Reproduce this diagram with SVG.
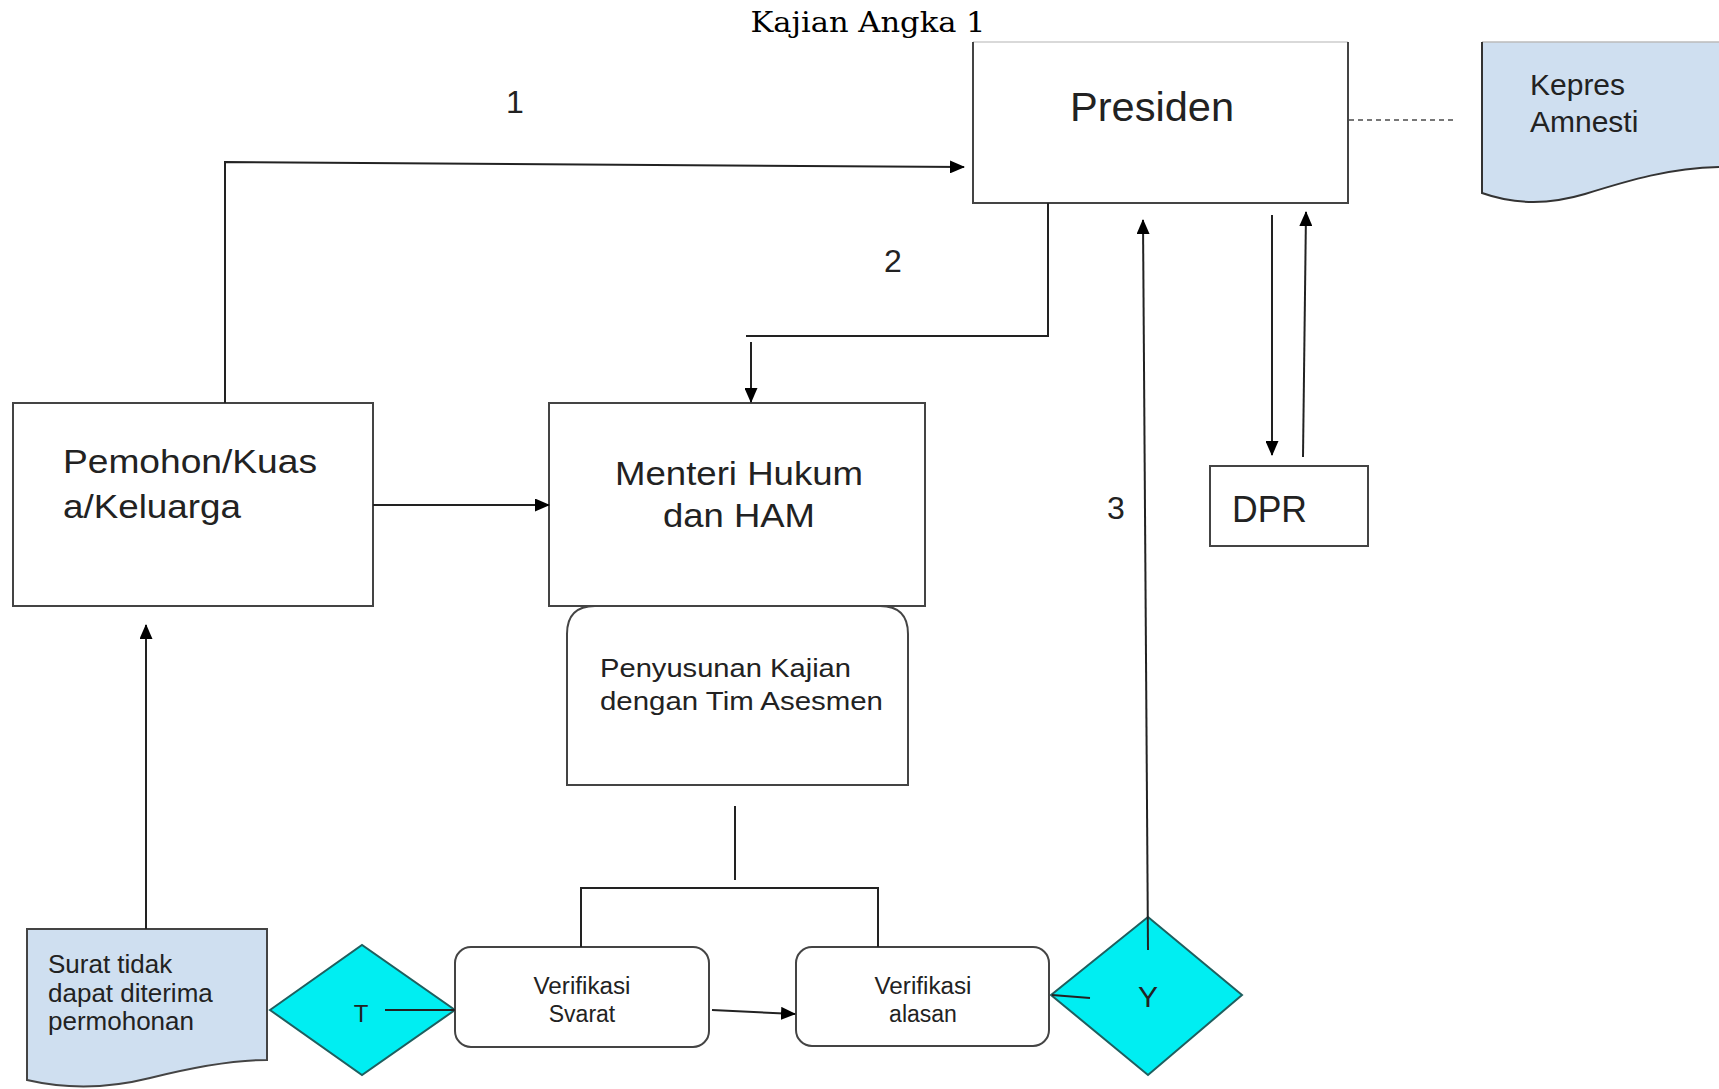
<svg xmlns="http://www.w3.org/2000/svg" width="1719" height="1089" viewBox="0 0 1719 1089">
<defs>
<marker id="ah" markerWidth="15" markerHeight="13" refX="14" refY="6.5" orient="auto" markerUnits="userSpaceOnUse" viewBox="0 0 15 13">
<path d="M0,0 L15,6.5 L0,13 Z" fill="#000"/>
</marker>
<style>
.box{fill:#fff;stroke:#444;stroke-width:2}
.doc{fill:#cfdff0}
.dia{fill:#00eef2;stroke:#1f5f5f;stroke-width:2}
.ln{fill:none;stroke:#222;stroke-width:2}
.arr{fill:none;stroke:#222;stroke-width:2;marker-end:url(#ah)}
.t{font-family:"Liberation Sans",Arial,sans-serif;fill:#222}
</style>
</defs>
<rect width="1719" height="1089" fill="#fff"/>
<text x="868" y="32" text-anchor="middle" font-family="DejaVu Serif, serif" font-size="27" textLength="235" lengthAdjust="spacingAndGlyphs" fill="#000">Kajian Angka 1</text>

<g id="label-1"><text class="t" x="515" y="113" font-size="32" text-anchor="middle">1</text></g>
<g id="label-2"><text class="t" x="893" y="272" font-size="32" text-anchor="middle">2</text></g>
<g id="label-3"><text class="t" x="1116" y="519" font-size="32" text-anchor="middle">3</text></g>

<g id="presiden">
<rect x="973" y="42" width="375" height="161" fill="#fff"/>
<path d="M973,42 H1348" stroke="#ccc" stroke-width="1.5" fill="none"/>
<path d="M973,42 V203 H1348 V42" stroke="#444" stroke-width="2" fill="none"/>
<text class="t" x="1152" y="121" font-size="40" text-anchor="middle" textLength="164" lengthAdjust="spacingAndGlyphs">Presiden</text>
</g>

<g id="kepres">
<path class="doc" d="M1482,42 H1719 V167 C1670,168 1630,180 1585,194 C1545,206 1510,203 1482,193 Z"/>
<path d="M1482,42 H1719" stroke="#bbb" stroke-width="1.5" fill="none"/>
<path d="M1482,42 V193 C1510,203 1545,206 1585,194 C1630,180 1670,168 1719,167" stroke="#333" stroke-width="2" fill="none"/>
<text class="t" x="1530" y="95" font-size="30" fill="#1a1a2a">Kepres</text>
<text class="t" x="1530" y="132" font-size="30" fill="#1a1a2a">Amnesti</text>
</g>

<g id="pemohon">
<rect class="box" x="13" y="403" width="360" height="203"/>
<text class="t" x="63" y="473" font-size="34" textLength="254" lengthAdjust="spacingAndGlyphs">Pemohon/Kuas</text>
<text class="t" x="63" y="518" font-size="34" textLength="178" lengthAdjust="spacingAndGlyphs">a/Keluarga</text>
</g>

<g id="menteri">
<rect class="box" x="549" y="403" width="376" height="203"/>
<text class="t" x="739" y="485" font-size="34" text-anchor="middle" textLength="248" lengthAdjust="spacingAndGlyphs">Menteri Hukum</text>
<text class="t" x="739" y="527" font-size="34" text-anchor="middle" textLength="152" lengthAdjust="spacingAndGlyphs">dan HAM</text>
</g>

<g id="penyusunan">
<path class="box" d="M567,785 V634 Q567,606 595,606 H880 Q908,606 908,634 V785 Z"/>
<text class="t" x="600" y="677" font-size="26" textLength="251" lengthAdjust="spacingAndGlyphs">Penyusunan Kajian</text>
<text class="t" x="600" y="710" font-size="26" textLength="283" lengthAdjust="spacingAndGlyphs">dengan Tim Asesmen</text>
</g>

<g id="dpr">
<rect class="box" x="1210" y="466" width="158" height="80"/>
<text class="t" x="1232" y="522" font-size="36" textLength="75" lengthAdjust="spacingAndGlyphs">DPR</text>
</g>

<g id="surat">
<path class="doc" d="M27,929 H267 V1060 C230,1060 190,1068 150,1078 C110,1088 70,1090 27,1080 Z" stroke="#444" stroke-width="2"/>
<text class="t" x="48" y="973" font-size="26">Surat tidak</text>
<text class="t" x="48" y="1002" font-size="26">dapat diterima</text>
<text class="t" x="48" y="1030" font-size="26">permohonan</text>
</g>

<g id="decision-t">
<path class="dia" d="M270,1010 L362,945 L455,1010 L362,1075 Z"/>
<text class="t" x="361" y="1022" font-size="24" text-anchor="middle">T</text>
</g>

<g id="verifikasi-syarat">
<rect class="box" x="455" y="947" width="254" height="100" rx="16" ry="16"/>
<text class="t" x="582" y="994" font-size="23" text-anchor="middle" textLength="97" lengthAdjust="spacingAndGlyphs">Verifikasi</text>
<text class="t" x="582" y="1022" font-size="23" text-anchor="middle">Svarat</text>
</g>

<g id="verifikasi-alasan">
<rect class="box" x="796" y="947" width="253" height="99" rx="16" ry="16"/>
<text class="t" x="923" y="994" font-size="23" text-anchor="middle" textLength="97" lengthAdjust="spacingAndGlyphs">Verifikasi</text>
<text class="t" x="923" y="1022" font-size="23" text-anchor="middle">alasan</text>
</g>

<g id="decision-y">
<path class="dia" d="M1051,995 L1148,917 L1242,995 L1148,1075 Z"/>
<text class="t" x="1148" y="1007" font-size="30" text-anchor="middle">Y</text>
</g>

<g id="connectors">
<path class="arr" d="M225,403 V162 L964,167"/>
<path class="ln" d="M1048,203 V336 H746"/>
<path class="arr" d="M751,342 V402"/>
<path class="arr" d="M373,505 H549"/>
<path class="arr" d="M146,929 V625"/>
<path class="ln" d="M735,806 V880"/>
<path class="ln" d="M581,947 V888 H878 V947"/>
<path class="arr" d="M712,1010 L795,1014"/>
<path class="ln" d="M385,1010 H455"/>
<path class="ln" d="M1052,995 L1090,998"/>
<path class="arr" d="M1148,950 L1143,220"/>
<path class="arr" d="M1272,215 V455"/>
<path class="arr" d="M1303,457 L1306,212"/>
<path d="M1349,120 H1455" stroke="#777" stroke-width="2" stroke-dasharray="5,4" fill="none"/>
</g>
</svg>
